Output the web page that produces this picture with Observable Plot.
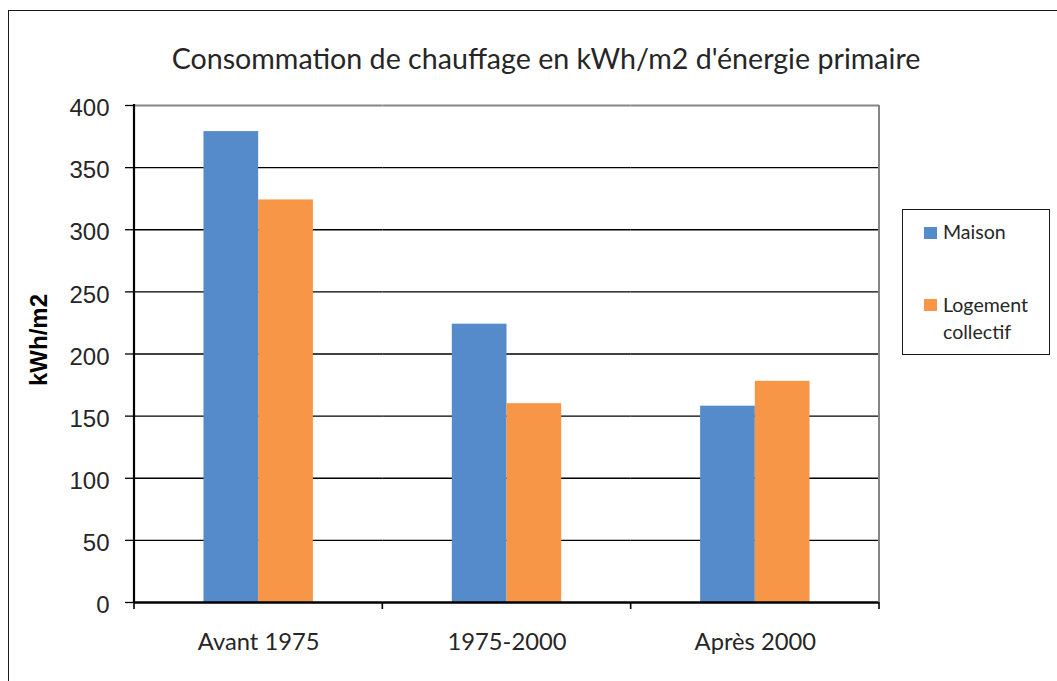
<!DOCTYPE html>
<html>
<head>
<meta charset="utf-8">
<script src="https://cdn.jsdelivr.net/npm/d3@7"></script>
<script src="https://cdn.jsdelivr.net/npm/@observablehq/plot@0.6"></script>
<style>
  html, body { margin: 0; padding: 0; background: #fff; width: 1057px; height: 681px; overflow: hidden; }
  #wrap { position: relative; width: 1057px; height: 681px; }
  #frame { position: absolute; left: 8px; top: 10px; width: 1200px; height: 800px; border: 1.7px solid #1a1a1a; box-sizing: border-box; }
  #chart { position: absolute; left: 0; top: 0; }
  .txt { position: absolute; white-space: nowrap; line-height: 1; color: #262626; font-family: Lato, "Open Sans", sans-serif; }
  #legend { position: absolute; left: 902px; top: 209px; width: 148px; height: 146px; border: 1.6px solid #1a1a1a; box-sizing: border-box; background: #fff; }
  .sw { position: absolute; width: 12.5px; height: 11.5px; }
  #ylabel { position: absolute; font-family: "Liberation Sans", Arial, sans-serif; font-weight: bold; font-size: 24px; color: #000; white-space: nowrap; line-height: 1; transform: translate(-50%, -50%) rotate(-90deg); left: 39px; top: 340px; }
</style>
</head>
<body>
<div id="wrap">
  <div id="frame"></div>
  <div id="chart"></div>
</div>
<script>
// ---- data ----
const periods = ["Avant 1975", "1975-2000", "Après 2000"];
const seriesNames = ["Maison", "Logement collectif"];
const maison = [379, 224, 158];
const logement = [324, 160, 178];
const yTicks = [0, 50, 100, 150, 200, 250, 300, 350, 400];
const colors = ["#558ACB", "#F79646"];
const titleText = "Consommation de chauffage en kWh/m2 d'énergie primaire";
const yLabelText = "kWh/m2";
const legendLabels = [["Maison"], ["Logement", "collectif"]];

const rows = periods.flatMap((p, i) => [
  {period: p, series: seriesNames[0], value: maison[i]},
  {period: p, series: seriesNames[1], value: logement[i]}
]);

// font fitting helper
const ctx = document.createElement("canvas").getContext("2d");
function fit(text, family, target) {
  ctx.font = `100px ${family}`;
  return 100 * target / ctx.measureText(text).width;
}
const FAM = "Lato";
const xfs = fit("Avant 1975", FAM, 121.7);
const tfs = fit(titleText, FAM, 749);
const lfs = fit("Logement", FAM, 85);

const chart = Plot.plot({
  width: 1057,
  height: 681,
  marginTop: 105,
  marginBottom: 79,
  marginLeft: 134,
  marginRight: 178,
  style: {fontFamily: "'Liberation Sans', Arial, sans-serif", fontSize: "24px", color: "#000", background: "transparent", overflow: "visible"},
  facet: {data: rows, x: "period"},
  fx: {domain: periods, padding: 0, round: false},
  x: {domain: seriesNames, paddingInner: 0, paddingOuter: 1.27, round: false, axis: null},
  y: {domain: [0, 400]},
  color: {domain: seriesNames, range: colors},
  marks: [
    Plot.ruleY(yTicks.filter(d => d > 0 && d < 400), {stroke: "#000", strokeWidth: 1.3}),
    Plot.ruleY([400], {stroke: "#868686", strokeWidth: 2}),
    Plot.barY(rows, {x: "series", y: "value", fill: "series"}),
    Plot.ruleY([0], {stroke: "#000", strokeWidth: 2.5}),
    Plot.axisY({ticks: yTicks, tickSize: 9, tickPadding: 16, label: null, fontSize: 24, fill: "#262626", stroke: "#000", strokeWidth: 1.3}),
    Plot.axisFx({anchor: "bottom", tickSize: 0, tickPadding: 31, label: null, fontFamily: FAM, fontSize: xfs, fill: "#262626"})
  ]
});
document.getElementById("chart").appendChild(chart);

// nudge y tick labels slightly down, as in the reference
d3.select(chart).selectAll('g[aria-label="y-axis tick label"]').each(function() {
  const tr = this.getAttribute("transform") || "";
  this.setAttribute("transform", (tr + " translate(0,3)").trim());
});

// decorations derived from the scales
const ys = chart.scale("y"), fxs = chart.scale("fx");
const yAt = v => ys.apply ? ys.apply(v) : ys.range[0] + (v - ys.domain[0]) / (ys.domain[1] - ys.domain[0]) * (ys.range[1] - ys.range[0]);
const bw = fxs.bandwidth;
const bounds = periods.map(p => fxs.apply(p)).concat([fxs.apply(periods[periods.length - 1]) + bw]);
const svg = d3.select(chart);
const g = svg.append("g");
g.append("line").attr("x1", bounds[3]).attr("x2", bounds[3]).attr("y1", yAt(400)).attr("y2", yAt(0)).attr("stroke", "#868686").attr("stroke-width", 2);
g.append("line").attr("x1", bounds[0]).attr("x2", bounds[0]).attr("y1", yAt(400) - 1).attr("y2", yAt(0)).attr("stroke", "#000").attr("stroke-width", 2.2);
bounds.forEach(b => g.append("line").attr("x1", b).attr("x2", b).attr("y1", yAt(0)).attr("y2", yAt(0) + 7).attr("stroke", "#000").attr("stroke-width", 1.6));

// title
const wrap = document.getElementById("wrap");
const t = document.createElement("div");
t.className = "txt";
t.textContent = titleText;
t.style.fontSize = tfs + "px";
t.style.left = "0px"; t.style.width = "1092px"; t.style.textAlign = "center";
t.style.top = (69 - 0.887 * tfs) + "px";
wrap.appendChild(t);

// y label
const yl = document.createElement("div");
yl.id = "ylabel";
yl.textContent = yLabelText;
wrap.appendChild(yl);

// legend
const lg = document.createElement("div");
lg.id = "legend";
wrap.appendChild(lg);
const swTops = [226 - 209, 298 - 209];
const baselines = [[238 - 209], [311 - 209, 338 - 209]];
seriesNames.forEach((s, i) => {
  const sw = document.createElement("div");
  sw.className = "sw";
  sw.style.background = colors[i];
  sw.style.left = (924 - 903) + "px";
  sw.style.top = swTops[i] + "px";
  lg.appendChild(sw);
  legendLabels[i].forEach((line, j) => {
    const d = document.createElement("div");
    d.className = "txt";
    d.textContent = line;
    d.style.fontSize = lfs + "px";
    d.style.left = (943 - 903) + "px";
    d.style.top = (baselines[i][j] - 0.887 * lfs) + "px";
    lg.appendChild(d);
  });
});
</script>
</body>
</html>
